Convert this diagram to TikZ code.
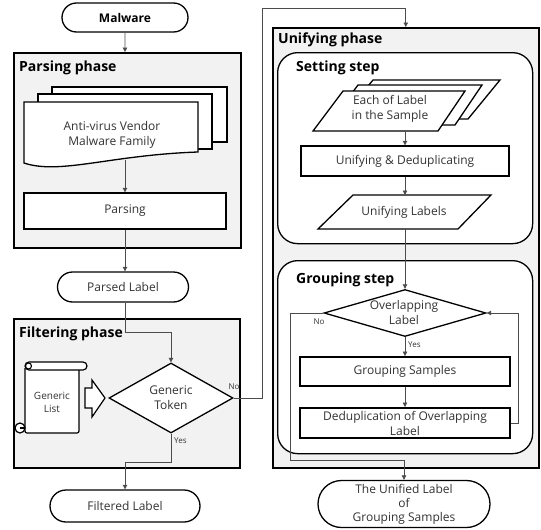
\documentclass[tikz,border=0pt]{standalone}
\usepackage{fontspec}
\setmainfont{Open Sans}
\usetikzlibrary{shapes.geometric,shapes.misc,arrows.meta,calc}
\begin{document}
\begin{tikzpicture}[x=1pt,y=-1pt,
  phase/.style={draw=black, line width=1.6pt, fill=gray!10, anchor=north west, inner sep=0pt},
  stepframe/.style={draw=black, line width=1.3pt, fill=white, rounded corners=20pt, anchor=north west, inner sep=0pt},
  shp/.style={draw=black, line width=1.3pt, fill=white},
  proc/.style={shp, inner sep=0pt, txt},
  thick proc/.style={proc, line width=2pt},
  term/.style={rounded rectangle, shp, inner sep=0pt, txt},
  conn/.style={draw=black!70, line width=0.7pt},
  arr/.style={conn, -{Triangle[length=4.5pt,width=4.5pt]}},
  ttl/.style={font=\bfseries\fontsize{14}{16}\selectfont, anchor=west, inner sep=0pt},
  txt/.style={font=\fontsize{12}{15}\selectfont, text=black!80, align=center},
  small/.style={font=\fontsize{8}{9}\selectfont, text=black!80, inner sep=0pt},
]
\useasboundingbox (0,0) rectangle (541,530);

% ---------- Parsing phase ----------
\node[term, font=\bfseries\fontsize{12}{14}\selectfont, text=black, minimum width=126pt, minimum height=29pt] (mal) at (125,17.5) {Malware};
\node[phase, minimum width=227pt, minimum height=195pt] (pph) at (13,52) {};
\node[ttl] (ppt) at (19,68) {Parsing phase};

\draw[shp] (52,87) rectangle (227,142);
\draw[shp] (38,94) rectangle (212,149);
\draw[shp] (24,102) -- (198,102) -- (198,152) .. controls (110,155) and (60,175) .. (24,163) -- cycle;
\node[txt] (doc) at (112,135) {Anti-virus Vendor\\Malware Family};
\coordinate (docb) at (125,160);

\node[proc, minimum width=202pt, minimum height=36pt] (pars) at (125,211) {Parsing};

\node[term, minimum width=131pt, minimum height=30pt] (plab) at (123,287) {Parsed Label};

% ---------- Filtering phase ----------
\node[phase, minimum width=226pt, minimum height=149pt] (fph) at (13,318) {};
\node[ttl] (fpt) at (19,334) {Filtering phase};

% scroll
\draw[shp, line width=1.2pt, rounded corners=2pt] (25,368) -- (25,433) -- (79,433) -- (79,368);
\draw[shp, line width=1.2pt, rounded corners=4pt] (25,362) rectangle (87,370);
\draw[shp, line width=1.1pt] (28.5,366) circle (3pt);
\draw[shp, line width=1.2pt] (20,428) circle (5pt);
\draw[line width=1.1pt] (20,428) -- (25,428);
\node[txt, font=\fontsize{10}{13}\selectfont] (glist) at (52,402) {Generic\\List};

% block arrow
\draw[shp, line width=1.2pt] (85,388) -- (92,388) -- (92,380) -- (105,398) -- (92,417) -- (92,408) -- (85,408) -- cycle;

\node[diamond, shp, inner sep=0pt, minimum width=124pt, minimum height=70pt] (d1) at (171,398) {};
\node[txt] (d1t) at (171,398) {Generic\\Token};

\node[term, minimum width=150pt, minimum height=32pt] (flab) at (125,506) {Filtered Label};

% ---------- Unifying phase ----------
\node[phase, minimum width=266pt, minimum height=440pt] (uph) at (272,27) {};
\node[ttl] (upt) at (278,40) {Unifying phase};

\node[stepframe, minimum width=255pt, minimum height=191pt] (sst) at (277,52) {};
\node[ttl] (sstt) at (296,68) {Setting step};

\draw[shp] (373,80) -- (500,80) -- (468,119) -- (341,119) -- cycle;
\draw[shp] (358,85) -- (482,85) -- (455,125) -- (328,125) -- cycle;
\draw[shp] (343,91) -- (465,91) -- (438,131) -- (313,131) -- cycle;
\node[txt] (each) at (390,109) {Each of Label\\in the Sample};
\coordinate (eachb) at (405,131);

\node[proc, minimum width=208pt, minimum height=30pt] (ud) at (405,161) {Unifying \& Deduplicating};

\draw[shp] (353,195) -- (491,195) -- (458,229) -- (318,229) -- cycle;
\node[txt] (ul) at (404,212) {Unifying Labels};
\coordinate (ult) at (405,195);
\coordinate (ulb) at (405,229);

\node[stepframe, minimum width=255pt, minimum height=193pt] (gst) at (277,260) {};
\node[ttl] (gstt) at (296,280) {Grouping step};

\node[diamond, shp, inner sep=0pt, minimum width=162pt, minimum height=47pt] (d2) at (405,313) {};
\node[txt] (d2t) at (404,312) {Overlapping\\Label};

\node[thick proc, minimum width=210pt, minimum height=29pt] (gs) at (405,371.5) {Grouping Samples};
\node[thick proc, minimum width=210pt, minimum height=30pt] (dd) at (405,423) {Deduplication of Overlapping\\Label};

\node[term, minimum width=172pt, minimum height=47pt, font=\fontsize{12}{14}\selectfont] (ulab) at (404,504) {The Unified Label\\of\\Grouping Samples};

% ---------- connectors ----------
\draw[arr] (mal) -- (mal.south |- pph.north);
\draw[arr] (docb) -- (docb |- pars.north);
\draw[arr] (pars.south) -- (pars.south |- plab.north);
\coordinate (c1) at (125,332);
\draw[arr] (plab.south -| c1) -- (c1) -| (d1.north);
\coordinate (n1) at (262,398);
\coordinate (n2) at (262,8);
\draw[arr] (d1.east) -- (n1) -- (n2) -| (uph.north);
\node[small, anchor=south east] (no1) at ($(d1.east)+(6,-8)$) {No};
\coordinate (y1) at (171,462);
\draw[arr] (d1.south) -- (y1) -| (flab.north);
\node[small, anchor=west] (yes1) at ($(d1.south)+(3,7)$) {Yes};

\draw[arr] (eachb) -- (eachb |- ud.north);
\draw[arr] (ud.south) -- (ult);
\draw[arr] (ulb) -- (d2.north);
\draw[arr] (d2.south) -- (gs.north);
\node[small, anchor=west] (yes2) at ($(d2.south)+(3,8)$) {Yes};
\draw[arr] (gs.south) -- (dd.north);
\coordinate (l1) at (518,423);
\coordinate (l2) at (518,313);
\draw[arr] (dd.east) -- (l1) -- (l2) -- (d2.east);
\coordinate (m1) at (290,313);
\coordinate (m2) at (290,460);
\draw[arr] (d2.west) -- (m1) -- (m2) -| (ulab.north);
\node[small] (no2) at (319,322) {No};
\end{tikzpicture}
\end{document}
